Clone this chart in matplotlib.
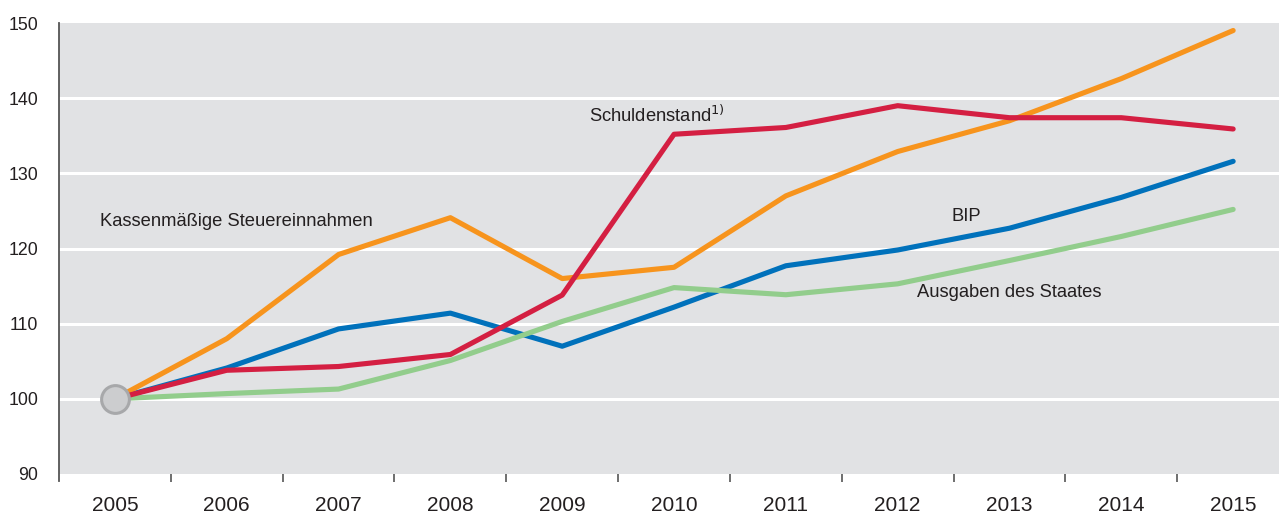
import matplotlib.pyplot as plt
import numpy as np

years = ["2005", "2006", "2007", "2008", "2009", "2010",
         "2011", "2012", "2013", "2014", "2015"]
steuer = [100, 108.0, 119.2, 124.1, 116.0, 117.5, 127.0, 132.9, 137.0, 142.6, 149.0]
schulden = [100, 103.8, 104.3, 105.9, 113.8, 135.2, 136.1, 139.0, 137.4, 137.4, 135.9]
bip = [100, 104.1, 109.3, 111.4, 107.0, 112.2, 117.7, 119.8, 122.7, 126.8, 131.6]
ausgaben = [100, 100.7, 101.3, 105.1, 110.3, 114.8, 113.85, 115.3, 118.4, 121.6, 125.2]
y_ticks = [90, 100, 110, 120, 130, 140, 150]

plt.rcParams['font.family'] = ['Liberation Sans', 'DejaVu Sans']

fig = plt.figure(figsize=(12.79, 5.14), dpi=100)
# axes box: left edge at x=59px, top at 23px, bottom at 474px
ax = fig.add_axes([59 / 1279, 40 / 514, 1 - 59 / 1279, 451 / 514])
ax.set_facecolor('#e1e2e4')

x = np.arange(len(years))
lw = 3.7
ax.plot(x, bip, color='#0071bb', lw=lw, zorder=3, solid_capstyle='round')
ax.plot(x, ausgaben, color='#92cd8c', lw=lw, zorder=3.5, solid_capstyle='round')
ax.plot(x, steuer, color='#f7941d', lw=lw, zorder=4, solid_capstyle='round')
ax.plot(x, schulden, color='#d41f42', lw=lw, zorder=5, solid_capstyle='round')
ax.plot([0], [100], marker='o', ms=20, mfc='#cccdcf', mec='#a7a8aa', mew=2.2, zorder=6)

ax.set_xlim(-0.5, 10.41)
ax.set_ylim(90, 150)

for v in y_ticks[1:-1]:
    ax.axhline(v, color='white', lw=2.2, zorder=1)

ax.set_yticks(y_ticks)
ax.set_yticklabels([str(v) for v in y_ticks], fontsize=12.8)
ax.tick_params(axis='y', length=0, pad=15, labelcolor='#231f20')

ax.set_xticks(x)
ax.set_xticklabels(years, fontsize=15, color='#231f20')
ax.tick_params(axis='x', which='major', length=0, pad=16)
ax.set_xticks(list(np.arange(0.5, 10, 1.0)), minor=True)
ax.tick_params(axis='x', which='minor', length=5.5, width=1.2, color='#555555')

for s in ['top', 'right', 'bottom']:
    ax.spines[s].set_visible(False)
ax.spines['left'].set_color('#555555')
ax.spines['left'].set_linewidth(1.3)
ax.spines['left'].set_bounds(89.07, 150)
ax.spines['left'].set_clip_on(False)

tc = '#231f20'
ax.text(-0.134, 123.6, 'Kassenmäßige Steuereinnahmen', fontsize=13.2, color=tc, va='center')
ax.text(4.24, 137.8, 'Schuldenstand$^{1)}$', fontsize=13.2, color=tc, va='center')
ax.text(7.61, 124.2, 'BIP', fontsize=13.2, color=tc, va='center', ha='center')
ax.text(7.17, 114.1, 'Ausgaben des Staates', fontsize=13.2, color=tc, va='center')

fig.savefig('out.png', dpi=100)
